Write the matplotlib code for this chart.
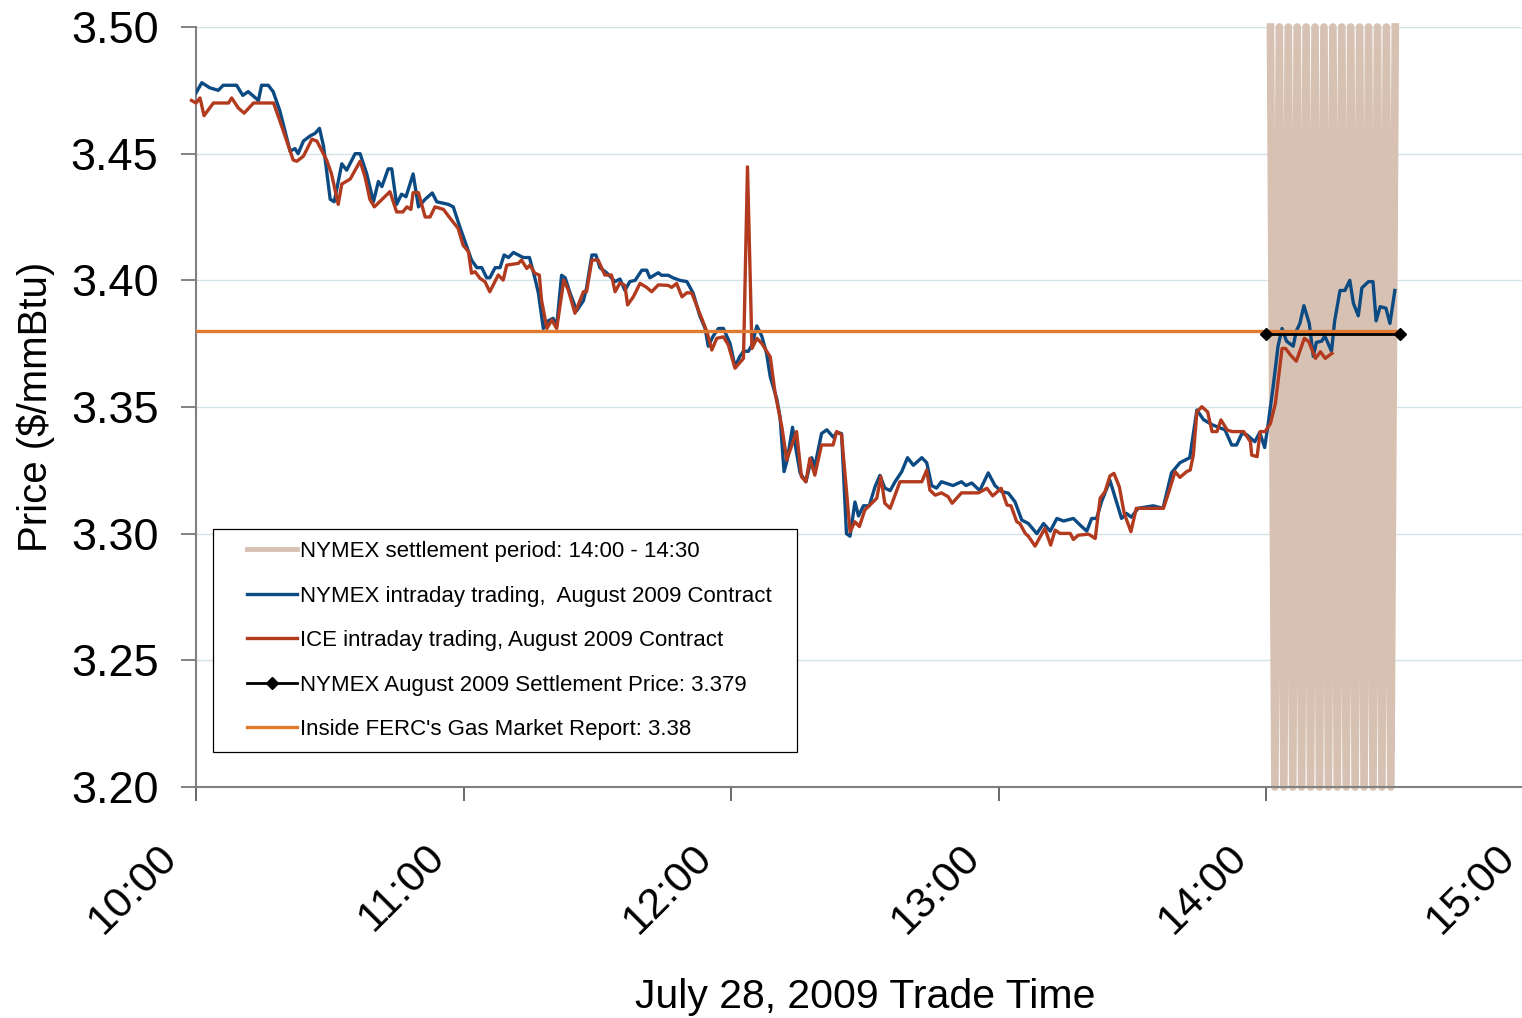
import matplotlib
matplotlib.use("Agg")
import matplotlib.pyplot as plt
from matplotlib.patches import Rectangle
from matplotlib.transforms import ScaledTranslation

plt.rcParams['font.family'] = ['Liberation Sans', 'DejaVu Sans']

# minutes after 10:00 and price, NYMEX intraday (August 2009 contract)
nymex_min = [0, 1.3, 3.1, 5, 6.1, 9.1, 10.5, 11.7, 14, 14.7, 16.2, 17.3, 18.8, 21.1, 22.2, 22.9,
             24.1, 25.6, 26.7, 27.7, 28.6, 30.1, 31.0, 32.7, 33.8, 35.7, 36.8, 38.3, 39.8, 40.9,
             41.7, 43.1, 43.9, 45.0, 46.1, 47.1, 48.7, 49.9, 51.4, 53.0, 54.0, 56.6, 57.7, 59.2,
             60.0, 61.8, 63.0, 64.1, 65.2, 65.9, 67.1, 68.2, 69.1, 70.1, 71.2, 72.3, 73.4, 74.8,
             76.0, 76.8, 77.9, 79.0, 80.1, 80.9, 82.0, 82.8, 83.9, 85.4, 86.9, 87.6, 88.8, 89.7,
             90.6, 92.1, 94.0, 95.1, 96.2, 97.3, 98.5, 100.0, 101.1, 101.8, 103.7, 104.4, 105.9,
             107.0, 108.5, 110.1, 111.5, 113.0, 114.2, 114.9, 116.0, 117.2, 118.3, 119.8, 120.9,
             122.0, 122.8, 123.9, 124.7, 125.8, 126.9, 128.0, 128.8, 130.3, 131.0, 131.9, 132.6,
             133.8, 134.6, 135.5, 136.8, 138.1, 138.8, 140.3, 141.5, 143.0, 143.7, 144.8, 145.9,
             146.7, 147.8, 148.6, 149.7, 151.0, 152.3, 153.4, 154.5, 155.7, 156.8, 158.3, 159.6,
             160.9, 162.8, 163.9, 165.0, 166.1, 167.2, 169.8, 171.7, 172.7, 174.0, 175.8, 177.7,
             179.2, 180.7, 182.2, 183.7, 185.2, 186.7, 188.6, 190.1, 191.6, 193.1, 194.6, 196.8,
             198.3, 199.8, 200.9, 202.0, 203.1, 205.0, 207.6, 208.7, 209.8, 211.3, 214.7, 216.9,
             218.8, 220.7, 222.9, 224.5, 226.0, 227.9, 230.8, 232.3, 233.4, 234.6, 235.7, 237.5,
             238.6, 239.7, 240.5, 241.6, 242.7, 243.6, 244.6, 246.1, 246.8, 247.6, 248.5, 249.7,
             250.6, 251.3, 252.5, 253.2, 254.7, 255.4, 256.6, 257.7, 258.8, 259.6, 260.7, 261.5,
             263.0, 264.0, 264.7, 265.6, 266.9, 267.8, 268.9]
nymex_px = [3.474, 3.478, 3.476, 3.475, 3.477, 3.477, 3.473, 3.4745, 3.471, 3.477, 3.477, 3.4745,
            3.467, 3.451, 3.452, 3.450, 3.455, 3.457, 3.458, 3.460, 3.453, 3.432, 3.431, 3.446,
            3.4435, 3.450, 3.450, 3.442, 3.431, 3.439, 3.437, 3.444, 3.444, 3.430, 3.434, 3.433,
            3.442, 3.429, 3.432, 3.4345, 3.431, 3.430, 3.429, 3.421, 3.417, 3.408, 3.405, 3.405,
            3.401, 3.401, 3.405, 3.405, 3.410, 3.409, 3.411, 3.410, 3.409, 3.409, 3.401, 3.395,
            3.381, 3.384, 3.385, 3.382, 3.402, 3.401, 3.395, 3.388, 3.392, 3.397, 3.410, 3.410,
            3.405, 3.403, 3.3995, 3.4005, 3.396, 3.3995, 3.400, 3.404, 3.404, 3.401, 3.403, 3.402,
            3.402, 3.401, 3.400, 3.3995, 3.395, 3.386, 3.381, 3.374, 3.378, 3.381, 3.381, 3.375,
            3.366, 3.370, 3.372, 3.372, 3.3745, 3.382, 3.378, 3.371, 3.362, 3.353, 3.346, 3.3245,
            3.329, 3.342, 3.333, 3.324, 3.3205, 3.330, 3.3265, 3.3395, 3.341, 3.338, 3.340, 3.3395,
            3.300, 3.299, 3.3125, 3.307, 3.311, 3.311, 3.3185, 3.323, 3.318, 3.317, 3.3205, 3.3245,
            3.330, 3.327, 3.330, 3.328, 3.319, 3.318, 3.3205, 3.319, 3.3205, 3.319, 3.320, 3.317,
            3.324, 3.319, 3.3166, 3.316, 3.3126, 3.3054, 3.304, 3.300, 3.304, 3.301, 3.306, 3.305,
            3.306, 3.3034, 3.301, 3.306, 3.306, 3.3126, 3.321, 3.306, 3.308, 3.3065, 3.310, 3.311,
            3.310, 3.324, 3.328, 3.330, 3.3488, 3.345, 3.343, 3.341, 3.335, 3.335, 3.3396, 3.339,
            3.3363, 3.340, 3.334, 3.3435, 3.358, 3.374, 3.381, 3.376, 3.374, 3.380, 3.383, 3.390,
            3.383, 3.370, 3.3755, 3.376, 3.378, 3.372, 3.384, 3.396, 3.396, 3.400, 3.391, 3.386,
            3.397, 3.3995, 3.3995, 3.384, 3.3896, 3.389, 3.383, 3.396]

# ICE intraday (August 2009 contract)
ice_min = [-1.0, 0, 0.9, 1.8, 3.9, 7.3, 8.0, 9.5, 10.8, 12.9, 17.4, 18.8, 21.8, 22.6, 24.1, 26.0,
           27.1, 29.3, 30.4, 31.9, 32.7, 34.6, 36.8, 37.9, 39.0, 40.0, 43.5, 45.0, 46.4, 47.3,
           48.2, 48.7, 49.9, 51.4, 52.5, 53.6, 55.5, 57.0, 58.8, 59.9, 61.1, 61.8, 62.6, 63.7,
           64.8, 65.9, 67.8, 68.9, 69.7, 72.3, 73.0, 74.2, 74.9, 76.0, 77.0, 77.5, 78.7, 79.8,
           80.9, 82.5, 83.5, 85.0, 86.9, 87.6, 88.8, 90.2, 91.7, 93.2, 94.0, 95.1, 96.2, 96.8,
           98.1, 99.6, 101.1, 102.2, 103.7, 105.9, 106.7, 107.8, 109.0, 110.1, 111.2, 112.7,
           114.6, 115.7, 116.8, 118.3, 119.4, 120.9, 122.8, 123.7, 124.7, 125.8, 126.9, 128.8,
           129.9, 131.4, 132.5, 134.7, 135.8, 136.8, 137.7, 138.8, 140.3, 142.9, 143.7, 144.8,
           146.7, 147.8, 148.8, 150.0, 152.7, 153.6, 154.5, 155.7, 157.9, 162.8, 163.9, 164.6,
           165.8, 167.2, 168.7, 169.6, 171.7, 175.5, 177.4, 178.7, 180.6, 181.9, 182.8, 184.1,
           184.8, 186.0, 186.7, 188.2, 190.4, 191.7, 192.7, 193.8, 196.1, 196.8, 197.9, 200.2,
           201.7, 202.8, 203.9, 205.0, 205.9, 207.1, 208.2, 209.7, 210.9, 217.0, 218.1, 219.6,
           220.7, 222.2, 223.0, 223.7, 224.5, 225.6, 226.9, 227.9, 229.0, 229.9, 231.3, 232.4,
           235.0, 236.5, 236.8, 238.0, 238.7, 239.8, 241.0, 242.1, 243.6, 244.4, 245.5, 246.8,
           248.6, 249.6, 251.1, 252.2, 253.3, 254.8]
ice_px = [3.471, 3.470, 3.472, 3.465, 3.470, 3.470, 3.472, 3.468, 3.466, 3.470, 3.470, 3.463,
          3.4475, 3.447, 3.449, 3.4557, 3.455, 3.4475, 3.442, 3.430, 3.438, 3.440, 3.447, 3.441,
          3.432, 3.429, 3.435, 3.427, 3.427, 3.429, 3.428, 3.4346, 3.4346, 3.425, 3.425, 3.429,
          3.428, 3.4245, 3.4205, 3.4139, 3.4113, 3.4028, 3.4034, 3.4008, 3.3995, 3.3955, 3.4021,
          3.4001, 3.406, 3.4067, 3.408, 3.4047, 3.406, 3.4028, 3.4021, 3.3922, 3.381, 3.3843,
          3.381, 3.4001, 3.3962, 3.387, 3.3955, 3.3955, 3.408, 3.408, 3.4021, 3.4021, 3.3955,
          3.399, 3.398, 3.3903, 3.3935, 3.3988, 3.3972, 3.3955, 3.3982, 3.398, 3.3972, 3.3988,
          3.3935, 3.3951, 3.395, 3.3883, 3.3797, 3.3725, 3.3771, 3.3777, 3.3745, 3.3653, 3.3692,
          3.4448, 3.3731, 3.3771, 3.3751, 3.3698, 3.3554, 3.3422, 3.3291, 3.3403, 3.3225, 3.3205,
          3.3297, 3.3231, 3.335, 3.335, 3.3403, 3.339, 3.3008, 3.3047, 3.3028, 3.3093, 3.314,
          3.3225, 3.312, 3.310, 3.3205, 3.3205, 3.3251, 3.3172, 3.3152, 3.3161, 3.3146, 3.312,
          3.3161, 3.3161, 3.3179, 3.3149, 3.3179, 3.3113, 3.311, 3.3047, 3.304, 3.3001, 3.299,
          3.2951, 3.3021, 3.2955, 3.3014, 3.3001, 3.3001, 3.2977, 3.2994, 3.2998, 3.2981, 3.314,
          3.3166, 3.3228, 3.3238, 3.3185, 3.308, 3.3008, 3.310, 3.310, 3.3159, 3.3245, 3.3222,
          3.3245, 3.3251, 3.331, 3.3481, 3.3501, 3.3481, 3.3403, 3.3403, 3.3449, 3.3409, 3.3403,
          3.3403, 3.3363, 3.331, 3.3304, 3.3403, 3.3403, 3.3435, 3.3514, 3.3731, 3.3731, 3.3705,
          3.3681, 3.3771, 3.3758, 3.3692, 3.3718, 3.3692, 3.3712]

# settlement period band 14:00 - 14:30 (a zig-zag series, like the original)
band_min = [241, 242, 243, 244, 245, 246, 247, 248, 249, 250, 251, 252, 253, 254, 255,
            256, 257, 258, 259, 260, 261, 262, 263, 264, 265, 266, 267, 268, 269]
band_px = [3.50, 3.20, 3.50, 3.20, 3.50, 3.20, 3.50, 3.20, 3.50, 3.20, 3.50, 3.20, 3.50, 3.20,
           3.50, 3.20, 3.50, 3.20, 3.50, 3.20, 3.50, 3.20, 3.50, 3.20, 3.50, 3.20, 3.50, 3.20,
           3.50]

settle_min = [240, 270]
settle_px = [3.379, 3.379]
ferc_min = [0, 270]
ferc_px = [3.38, 3.38]

xticks = [0, 60, 120, 180, 240, 300]
xticklabels = ['10:00', '11:00', '12:00', '13:00', '14:00', '15:00']
yticks = [3.20, 3.25, 3.30, 3.35, 3.40, 3.45, 3.50]

c_band = '#D7C1B2'
c_nymex = '#0B4A82'
c_ice = '#B23A1E'
c_ferc = '#E07A30'

W, H = 1522, 1018
AX_W = 1533.5 - 196
fig = plt.figure(figsize=(W / 100, H / 100), dpi=100)
ax = fig.add_axes([196 / W, 1 - 787 / H, AX_W / W, 760 / H])

ax.plot(band_min, band_px, color=c_band, lw=5.5, solid_joinstyle='round', clip_on=False,
        label='NYMEX settlement period: 14:00 - 14:30', zorder=1)
ax.plot(nymex_min, nymex_px, color=c_nymex, lw=2.4,
        label='NYMEX intraday trading,  August 2009 Contract', zorder=3)
ax.plot(ice_min, ice_px, color=c_ice, lw=2.4, clip_on=False,
        label='ICE intraday trading, August 2009 Contract', zorder=4)
ax.plot(settle_min, settle_px, color='black', lw=2.0, marker='D', ms=6,
        label='NYMEX August 2009 Settlement Price: 3.379', zorder=6)
ax.plot(ferc_min, ferc_px, color=c_ferc, lw=2.4,
        label="Inside FERC's Gas Market Report: 3.38", zorder=5)

ax.set_xlim(0, 300)
ax.set_ylim(3.20, 3.50)
ax.set_yticks(yticks)
ax.set_yticklabels([f'{v:.2f}' for v in yticks])
ax.set_xticks(xticks)
ax.set_xticklabels(xticklabels, rotation=45, ha='right', va='center', rotation_mode='anchor')
ax.grid(axis='y', color='#D5E3E8', lw=1.0)
ax.set_axisbelow(True)

for s in ['top', 'right']:
    ax.spines[s].set_visible(False)
for s in ['left', 'bottom']:
    ax.spines[s].set_color('#808080')
    ax.spines[s].set_linewidth(1.5)

ax.tick_params(axis='y', length=11, width=1.1, color='#606060', labelsize=32.5, pad=16)
ax.tick_params(axis='x', length=10, width=1.1, color='#404040', labelsize=31, pad=36)
for lab in ax.get_xticklabels():
    lab.set_transform(lab.get_transform() + ScaledTranslation(-0.25, 0, fig.dpi_scale_trans))

ax.set_ylabel('Price ($/mmBtu)', fontsize=29)
ax.yaxis.set_label_coords(-(196 - 55) / AX_W, 0.5)
ax.set_xlabel('July 28, 2009 Trade Time', fontsize=29.5, va='center')
ax.xaxis.set_label_coords((865 - 196) / AX_W, -(997 - 787) / 760)

# legend frame drawn separately so that its padding matches the original
ax.add_patch(Rectangle(((213 - 196) / AX_W, (787 - 752) / 760), (797 - 213) / AX_W, 223 / 760,
                       transform=ax.transAxes, facecolor='white', edgecolor='black', lw=0.9,
                       zorder=7))
leg = ax.legend(loc='upper left', bbox_to_anchor=((247 - 196) / AX_W, (787 - 541) / 760),
                borderaxespad=0, borderpad=0, fontsize=16, handlelength=2.25,
                handletextpad=0.14, labelspacing=1.06, frameon=False)
leg.set_zorder(8)
leg.get_lines()[0].set_linewidth(3.5)

fig.savefig('out.png', dpi=100)
